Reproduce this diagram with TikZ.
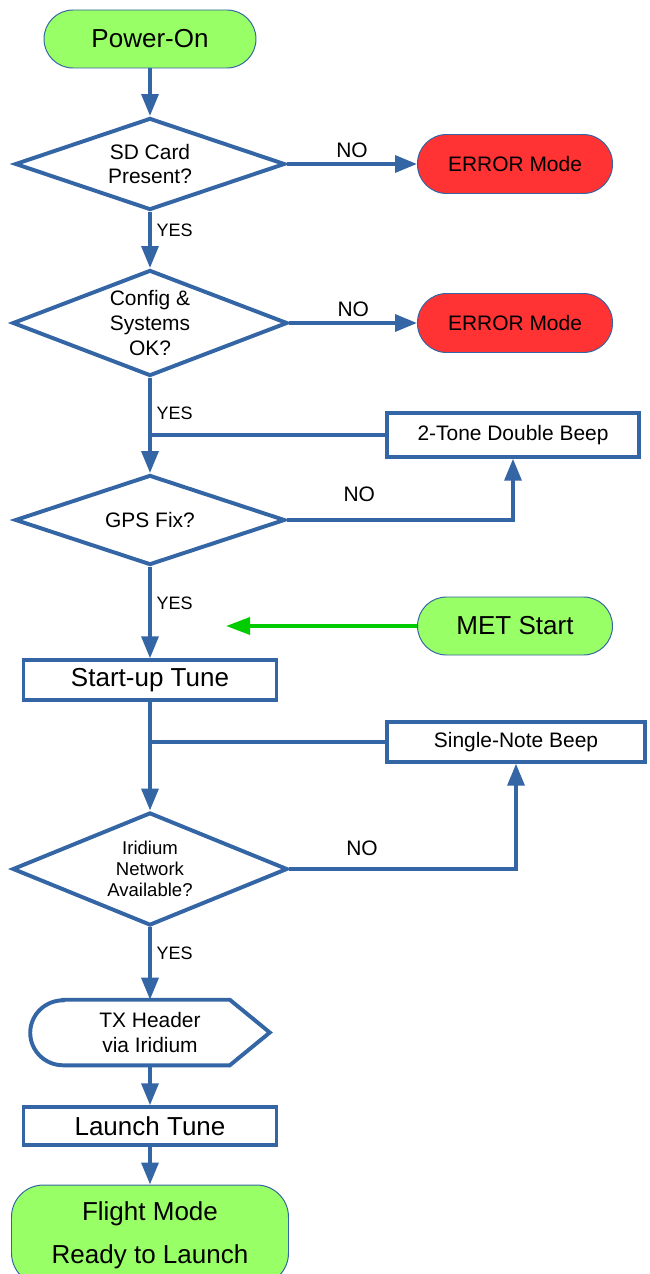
\documentclass[tikz,border=0pt]{standalone}
\usepackage{fontspec}
\setmainfont{Liberation Sans}
\usetikzlibrary{shapes.geometric,arrows.meta}

\definecolor{flowblue}{HTML}{3465A4}
\definecolor{termgreen}{HTML}{99FF66}
\definecolor{errred}{HTML}{FF3333}
\definecolor{metgreen}{HTML}{00CC00}

\newcommand{\fsbig}{\fontsize{18.5}{22}\selectfont}
\newcommand{\fsmid}{\fontsize{14.9}{17.5}\selectfont}
\newcommand{\fssmall}{\fontsize{12.8}{15}\selectfont}
\newcommand{\fsiri}{\fontsize{13.2}{15}\selectfont}
\newcommand{\fsflight}{\fontsize{18.5}{30.6}\selectfont}

\tikzstyle{terminal}=[rectangle,rounded corners=0.725cm,draw=flowblue,line width=0.7pt,fill=termgreen,minimum width=5.3cm,minimum height=1.45cm,align=center,font=\fsbig]
\tikzstyle{error}=[terminal,fill=errred,rounded corners=0.73cm,minimum width=4.875cm,minimum height=1.475cm,font=\fsmid]
\tikzstyle{decision}=[diamond,draw=flowblue,line width=2.8pt,fill=white,inner sep=0pt,align=center,font=\fsmid]
\tikzstyle{process}=[rectangle,draw=flowblue,line width=2.4pt,fill=white,align=center]
\tikzstyle{edge} = [draw,flowblue,line width=2.8pt,-{Triangle[length=0.55cm,width=0.42cm]}]
\tikzstyle{joiner} = [draw,flowblue,line width=2.8pt]
\tikzstyle{metedge} = [draw,metgreen,line width=2.8pt,-{Triangle[length=0.6cm,width=0.42cm]}]
\tikzstyle{answer} = [text=black,font=\fssmall]

\begin{document}
\begin{tikzpicture}
\useasboundingbox (0,0) rectangle (16.225,-31.85);
% start / end blocks
\node[terminal] (power) at (3.75,-0.975) {Power-On};
\foreach \pos/\name in {{(12.875,-4.1)/err1}, {(12.875,-8.075)/err2}}{
  \node[error] (\name) at \pos {ERROR Mode};
}
\node[terminal,minimum width=4.875cm] (met) at (12.875,-15.65) {MET Start};
\node[terminal,rounded corners=0.8cm,minimum width=6.925cm,minimum height=2.5cm,font=\fsflight] (flight) at (3.75,-30.875) {Flight Mode\\Ready to Launch};

% decisions
\node[decision,aspect=2.93,minimum width=6.75cm,minimum height=2.3cm] (sdcard) at (3.75,-4.1) {SD Card\\Present?};
\node[decision,aspect=2.6,minimum width=6.875cm,minimum height=2.65cm] (config) at (3.75,-8.075) {Config \&\\Systems\\OK?};
\node[decision,aspect=3,minimum width=6.75cm,minimum height=2.25cm] (gps) at (3.75,-13.0) {GPS Fix?};
\node[decision,aspect=2.43,minimum width=6.875cm,minimum height=2.825cm,font=\fsiri] (iridium) at (3.75,-21.725) {Iridium\\Network\\Available?};

% processes
\node[process,minimum width=6.3cm,minimum height=1.1cm,font=\fsmid] (twotone) at (12.825,-10.875) {2-Tone Double Beep};
\node[process,minimum width=6.45cm,minimum height=1.0cm,font=\fsmid] (single) at (12.9,-18.55) {Single-Note Beep};
\node[process,minimum width=6.325cm,minimum height=1.0cm,font=\fsbig] (startup) at (3.75,-17.0) {Start-up Tune};
\node[process,minimum width=6.325cm,minimum height=0.95cm,font=\fsbig] (launch) at (3.75,-28.15) {Launch Tune};

% display block
\node[minimum width=5.975cm,minimum height=1.625cm,align=center,font=\fsmid] (txhdr) at (3.75,-25.8125) {TX Header\\via Iridium};
\draw[flowblue,line width=2.8pt,line join=miter]
  ([xshift=0.825cm]txhdr.north west) -- ([xshift=-1cm]txhdr.north east) -- (txhdr.east)
  -- ([xshift=-1cm]txhdr.south east) -- ([xshift=0.825cm]txhdr.south west)
  arc[start angle=270,end angle=90,x radius=0.825cm,y radius=0.8125cm] -- cycle;

% connectors
\foreach \source/\dest in {power/sdcard, startup/iridium, txhdr/launch, launch/flight}{
  \path[edge] (\source.south) -- (\dest.north);
}
\foreach \source/\dest/\where in {sdcard/config/0.32, config/gps/0.37,
                                  gps/startup/0.4, iridium/txhdr/0.36}{
  \path[edge] (\source.south) -- node[answer,right,pos=\where] {YES} (\dest.north);
}
\foreach \source/\dest in {sdcard/err1, config/err2}{
  \path[edge] (\source.east) -- node[answer,above,font=\fsmid] {NO} (\dest.west);
}
\path[edge] (gps.east) -| node[answer,above=8pt,pos=0.16,font=\fsmid] {NO} (twotone.south);
\path[edge] (iridium.east) -| node[answer,above=5pt,pos=0.16,font=\fsmid] {NO} (single.south);
\path[joiner] (twotone.west) -- (twotone.west -| config.south);
\path[joiner] (single.west) -- (single.west -| startup.south);

\coordinate (metin) at (5.65,-15.65);
\path[metedge] (met.west) -- (metin);
\end{tikzpicture}
\end{document}
